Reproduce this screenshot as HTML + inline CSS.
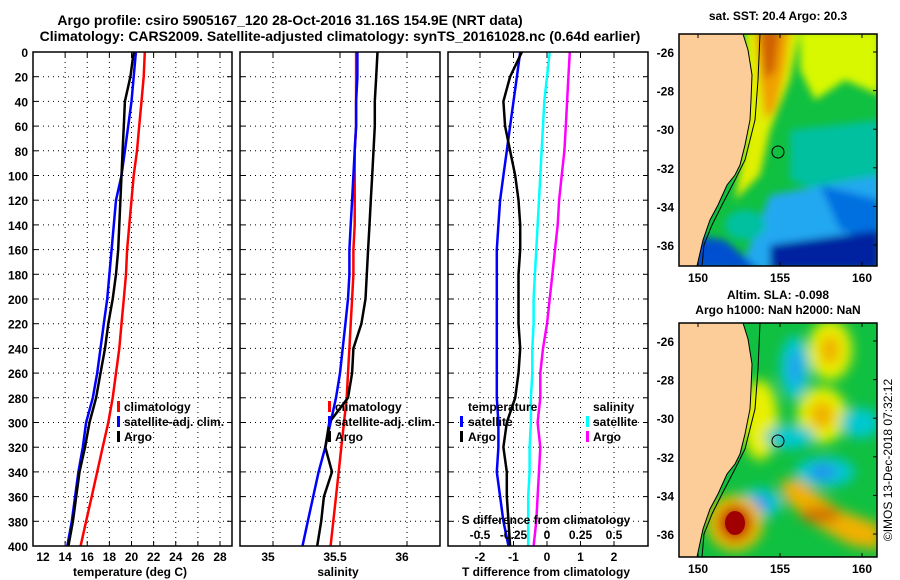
<!DOCTYPE html>
<html><head><meta charset="utf-8">
<style>
body{margin:0;background:#fff;}
svg{display:block;font-family:"Liberation Sans",sans-serif;font-weight:bold;}
</style></head>
<body>
<svg id="c" width="900" height="580" viewBox="0 0 900 580" xmlns="http://www.w3.org/2000/svg">
<defs>
<filter id="bl" x="-20%" y="-20%" width="140%" height="140%"><feGaussianBlur stdDeviation="4"/></filter>
<filter id="bl2" x="-20%" y="-20%" width="140%" height="140%"><feGaussianBlur stdDeviation="6"/></filter>
<clipPath id="m1"><rect x="679" y="34" width="198" height="232"/></clipPath>
<clipPath id="m2"><rect x="679" y="323" width="198" height="234"/></clipPath>
</defs>
<text x="290" y="25" text-anchor="middle" font-size="14">Argo profile: csiro 5905167_120 28-Oct-2016 31.16S 154.9E (NRT data)</text>
<text x="340" y="41" text-anchor="middle" font-size="14">Climatology: CARS2009. Satellite-adjusted climatology: synTS_20161028.nc (0.64d earlier)</text>

<!-- top map -->
<g clip-path="url(#m1)">
<rect x="679" y="34" width="198" height="232" fill="#10c040"/>
<g filter="url(#bl)">
<polygon points="800,30 880,30 880,95 845,80 815,100 800,70" fill="#d8f800"/>
<polygon points="745,30 800,30 790,80 770,130 760,175 735,200 745,140" fill="#e0f000"/>
<polygon points="755,30 790,30 785,70 775,110 765,120 760,80" fill="#f0a000"/>
<polygon points="760,30 780,30 775,70 765,80" fill="#d06000"/>
<polygon points="790,130 880,120 880,200 830,195 790,180" fill="#00c0a0"/>
<polygon points="770,195 880,175 880,270 740,270 760,220" fill="#20a8f0"/>
<polygon points="820,185 880,200 880,240 840,230" fill="#0070e0"/>
<polygon points="770,245 880,230 880,270 770,270" fill="#0020a0"/>
<ellipse cx="745" cy="225" rx="20" ry="15" fill="#00c0a0"/>
<polygon points="690,235 725,240 760,270 690,270" fill="#0050d0"/>
</g>
</g>
<!-- bottom map -->
<g clip-path="url(#m2)">
<rect x="679" y="323" width="198" height="234" fill="#10c040"/>
<g filter="url(#bl2)">
<ellipse cx="830" cy="350" rx="22" ry="30" fill="#e8f000"/>
<ellipse cx="830" cy="350" rx="10" ry="15" fill="#f0b000"/>
<ellipse cx="795" cy="368" rx="15" ry="32" fill="#00c8d0"/>
<ellipse cx="795" cy="368" rx="7" ry="18" fill="#20a0f0"/>
<ellipse cx="760" cy="420" rx="18" ry="40" fill="#e8f000"/>
<ellipse cx="822" cy="415" rx="25" ry="28" fill="#e8f000"/>
<ellipse cx="822" cy="415" rx="12" ry="14" fill="#f0b000"/>
<ellipse cx="790" cy="437" rx="25" ry="12" fill="#00c8d0"/>
<ellipse cx="860" cy="423" rx="20" ry="15" fill="#00c8d0"/>
<ellipse cx="825" cy="472" rx="30" ry="15" fill="#00c8d0"/>
<ellipse cx="823" cy="472" rx="14" ry="8" fill="#2090f0"/>
<polygon points="780,480 800,480 840,510 880,525 880,550 850,545 815,525 785,500" fill="#f0b000"/>
<ellipse cx="820" cy="515" rx="20" ry="8" fill="#d07000"/>
<ellipse cx="760" cy="503" rx="22" ry="15" fill="#00c8d0"/>
<ellipse cx="760" cy="503" rx="10" ry="7" fill="#2090f0"/>
<ellipse cx="735" cy="523" rx="28" ry="28" fill="#f0c000"/>
<ellipse cx="735" cy="523" rx="17" ry="18" fill="#c02000"/>
</g>
<ellipse cx="735" cy="523" rx="10" ry="12" fill="#a00000"/>
</g>
<g id="land"></g>

<g id="plots"></g>
</svg>
<script>
const depths=[0,20,40,60,80,100,120,140,160,180,200,220,240,260,280,300,320,340,360,380,400];
const tempClim=[21.2,21.1,20.9,20.7,20.5,20.2,20.0,19.8,19.6,19.5,19.3,19.1,18.9,18.6,18.3,17.9,17.4,16.9,16.4,15.9,15.4];
const tempSat=[20.4,20.2,20.0,19.7,19.4,19.1,18.6,18.4,18.2,18.0,17.8,17.5,17.2,16.9,16.5,15.9,15.6,15.2,14.9,14.6,14.2];
const tempArgo=[20.2,19.9,19.4,19.3,19.2,19.1,19.0,18.9,18.8,18.6,18.3,17.9,17.6,17.2,16.8,16.2,15.8,15.3,15.0,14.7,14.3];
const salClim=[35.62,35.62,35.62,35.62,35.61,35.61,35.61,35.61,35.6,35.6,35.59,35.58,35.57,35.56,35.55,35.53,35.51,35.49,35.47,35.45,35.43];
const salSat=[35.63,35.63,35.62,35.62,35.61,35.6,35.59,35.58,35.57,35.57,35.56,35.54,35.52,35.5,35.47,35.43,35.39,35.34,35.3,35.26,35.22];
const salArgo=[35.78,35.77,35.76,35.76,35.75,35.74,35.73,35.72,35.71,35.70,35.69,35.66,35.6,35.59,35.56,35.42,35.39,35.44,35.38,35.36,35.33];
const tDiffSat=[-0.8,-0.9,-1.0,-1.1,-1.2,-1.3,-1.4,-1.45,-1.5,-1.5,-1.5,-1.5,-1.5,-1.5,-1.5,-1.45,-1.45,-1.5,-1.4,-1.3,-1.15];
const tDiffArgo=[-0.75,-1.1,-1.3,-1.25,-1.1,-0.95,-0.85,-0.8,-0.8,-0.85,-0.85,-0.85,-0.8,-0.85,-0.95,-1.2,-1.3,-1.2,-1.2,-1.15,-1.1];
const sDiffSat=[0.02,0.0,-0.02,-0.03,-0.04,-0.05,-0.06,-0.07,-0.08,-0.09,-0.1,-0.1,-0.11,-0.11,-0.12,-0.12,-0.13,-0.13,-0.14,-0.14,-0.14];
const sDiffArgo=[0.17,0.16,0.15,0.14,0.13,0.11,0.09,0.08,0.06,0.04,0.02,0.0,-0.03,-0.05,-0.05,-0.07,-0.05,-0.06,-0.07,-0.08,-0.1];
const depthTicks=[0,20,40,60,80,100,120,140,160,180,200,220,240,260,280,300,320,340,360,380,400];
const tempTicks=[12,14,16,18,20,22,24,26,28];
const salTicks=[35,35.5,36];
const tdTicks=[-2,-1,0,1,2];
const sdTicks=[-0.5,-0.25,0,0.25,0.5];
const latTicks=[-26,-28,-30,-32,-34,-36];
const lonTicks=[150,155,160];

const NS='http://www.w3.org/2000/svg';
const root=document.getElementById('plots');
function el(tag,attrs,parent,text){const e=document.createElementNS(NS,tag);for(const k in attrs)e.setAttribute(k,attrs[k]);if(text!==undefined)e.textContent=text;(parent||root).appendChild(e);return e;}
const Y0=52,Y1=546;
const yD=d=>Y0+(d/400)*(Y1-Y0);
function lin(d0,d1,r0,r1){return v=>r0+(v-d0)/(d1-d0)*(r1-r0);}
const xT=lin(12,28,43,220);
const xS=lin(35,36,273,407);
const xTD=lin(-2,2,480,614);
const xSD=lin(-0.5,0.5,480,614);

function frame(x0,x1,name){
  const g=el('g',{});
  
  
  return g;
}
function grid(g,x0,x1,xs){
  depthTicks.forEach(d=>{if(d>0&&d<400){const l=el('line',{x1:x0,x2:x1,y1:yD(d),y2:yD(d),stroke:'#000','stroke-width':1,'stroke-dasharray':'1,4'},g);
    }
    el('line',{x1:x0,x2:x0+5,y1:yD(d),y2:yD(d),stroke:'#000'},g);el('line',{x1:x1-5,x2:x1,y1:yD(d),y2:yD(d),stroke:'#000'},g);});
  xs.forEach(x=>{const l=el('line',{x1:x,x2:x,y1:Y0,y2:Y1,stroke:'#000','stroke-width':1,'stroke-dasharray':'1,4'},g);
    
    el('line',{x1:x,x2:x,y1:Y1-5,y2:Y1,stroke:'#000'},g);el('line',{x1:x,x2:x,y1:Y0,y2:Y0+5,stroke:'#000'},g);});
}
function border(g,x0,x1){const r=el('rect',{x:x0,y:Y0,width:x1-x0,height:Y1-Y0,fill:'none',stroke:'#000','stroke-width':1.5},g);
  }
function series(g,vals,xf,color,name){
  const pts=vals.map((v,i)=>xf(v).toFixed(1)+','+yD(depths[i]).toFixed(1)).join(' ');
  const p=el('polyline',{points:pts,fill:'none',stroke:color,'stroke-width':2.5},g);
  
  
}
function txt(g,x,y,s,anchor,name,fill){const t=el('text',{x:x,y:y,'font-size':12,'text-anchor':anchor||'start',fill:fill||'#000'},g,s);
  return t;}
function legBar(g,x,y,color){el('rect',{x:x,y:y-10,width:3,height:11,fill:color},g);}

// Panel 1
const g1=frame(33,232,'temperature-panel');
grid(g1,33,232,tempTicks.slice(1).map(xT));
series(g1,tempClim,xT,'#ff0000','temp-climatology-line');
series(g1,tempSat,xT,'#0000ff','temp-satellite-line');
series(g1,tempArgo,xT,'#000000','temp-argo-line');
border(g1,33,232);
depthTicks.forEach(d=>txt(g1,28,yD(d)+5,String(d),'end','depth-tick-label'));
tempTicks.forEach(t=>txt(g1,xT(t),561,String(t),'middle','temp-tick-label'));
txt(g1,130,576,'temperature (deg C)','middle','temp-axis-title');
legBar(g1,117,411,'#ff0000');txt(g1,124,411,'climatology','start','legend-climatology');
legBar(g1,117,426,'#0000ff');txt(g1,124,426,'satellite-adj. clim.','start','legend-satellite');
legBar(g1,117,441,'#000');txt(g1,124,441,'Argo','start','legend-argo');

// Panel 2
const g2=frame(240,440,'salinity-panel');
grid(g2,240,440,salTicks.map(xS));
series(g2,salClim,xS,'#ff0000','sal-climatology-line');
series(g2,salSat,xS,'#0000ff','sal-satellite-line');
series(g2,salArgo,xS,'#000000','sal-argo-line');
border(g2,240,440);
salTicks.forEach(t=>txt(g2,xS(t)-5,561,String(t),'middle','sal-tick-label'));
txt(g2,338,576,'salinity','middle','sal-axis-title');
legBar(g2,328,411,'#ff0000');txt(g2,335,411,'climatology','start','legend-climatology');
legBar(g2,328,426,'#0000ff');txt(g2,335,426,'satellite-adj. clim.','start','legend-satellite');
legBar(g2,328,441,'#000');txt(g2,335,441,'Argo','start','legend-argo');

// Panel 3
const g3=frame(448,648,'difference-panel');
grid(g3,448,648,tdTicks.map(xTD));
series(g3,sDiffSat,xSD,'#00ffff','sdiff-satellite-line');
series(g3,sDiffArgo,xSD,'#ff00ff','sdiff-argo-line');
series(g3,tDiffSat,xTD,'#0000ff','tdiff-satellite-line');
series(g3,tDiffArgo,xTD,'#000000','tdiff-argo-line');
border(g3,448,648);
tdTicks.forEach(t=>txt(g3,xTD(t),561,String(t),'middle','tdiff-tick-label'));
sdTicks.forEach(t=>txt(g3,xSD(t),539,String(t),'middle','sdiff-tick-label'));
txt(g3,546,524,'S difference from climatology','middle','sdiff-axis-title');
txt(g3,546,576,'T difference from climatology','middle','tdiff-axis-title');
txt(g3,468,411,'temperature','start','legend-temperature-heading');
legBar(g3,460,426,'#0000ff');txt(g3,468,426,'satellite','start','legend-t-satellite');
legBar(g3,460,441,'#000');txt(g3,468,441,'Argo','start','legend-t-argo');
txt(g3,593,411,'salinity','start','legend-salinity-heading');
legBar(g3,586,426,'#00ffff');txt(g3,593,426,'satellite','start','legend-s-satellite');
legBar(g3,586,441,'#ff00ff');txt(g3,593,441,'Argo','start','legend-s-argo');

// Maps
const land=document.getElementById('land');
const landPts=[[679,34],[743,34],[748,50],[752,75],[751,100],[750,120],[745,145],[740,165],[735,175],[727,185],[718,205],[710,220],[703,240],[697,266],[679,266]];
const isoPts=[[760,34],[758,80],[755,120],[745,160],[735,180],[722,205],[712,225],[704,245],[702,266]];
const lonX=lin(150,160,698,862);
function drawMap(off,top,bot,name,latY){
  const g=el('g',{},land);
  
  const p=landPts.map(q=>q[0]+','+(q[1]===34?top:q[1]===266?bot:q[1]+off)).join(' ');
  el('polygon',{points:p,fill:'#fccc99',stroke:'#000','stroke-width':1},g);
  el('polyline',{points:isoPts.map(q=>q[0]+','+(q[1]===34?top:q[1]===266?bot:q[1]+off)).join(' '),fill:'none',stroke:'#000','stroke-width':1},g);
  el('circle',{cx:778,cy:152+off,r:6,fill:'none',stroke:'#000','stroke-width':1},g);
  el('rect',{x:679,y:top,width:198,height:bot-top,fill:'none',stroke:'#000','stroke-width':1.5},g);
  latTicks.forEach(l=>{const y=latY(l);el('line',{x1:877,x2:873,y1:y,y2:y,stroke:'#000'},g);
    const t=el('text',{x:674,y:y+5,'font-size':12,'text-anchor':'end'},g,String(l));
    });
  lonTicks.forEach(l=>{const x=lonX(l);el('line',{x1:x,x2:x,y1:top,y2:top+4,stroke:'#000'},g);el('line',{x1:x,x2:x,y1:bot,y2:bot-4,stroke:'#000'},g);
    const t=el('text',{x:x,y:bot+16,'font-size':12,'text-anchor':'middle'},g,String(l));
    });
}
drawMap(0,34,266,'sst-map-overlay',lin(-26,-36,52,245));
drawMap(289,323,557,'sla-map-overlay',lin(-26,-36,341,534));
txt(land,778,20,'sat. SST: 20.4 Argo: 20.3','middle','sst-map-title');
txt(land,778,299,'Altim. SLA: -0.098','middle','sla-map-title');
txt(land,778,314,'Argo h1000: NaN h2000: NaN','middle','sla-map-subtitle');
const ts=el('text',{x:0,y:0,'font-size':12,'font-weight':'normal','text-anchor':'middle',transform:'translate(892,460) rotate(-90)'},land,'©IMOS 13-Dec-2018 07:32:12');


</script>
</body></html>
